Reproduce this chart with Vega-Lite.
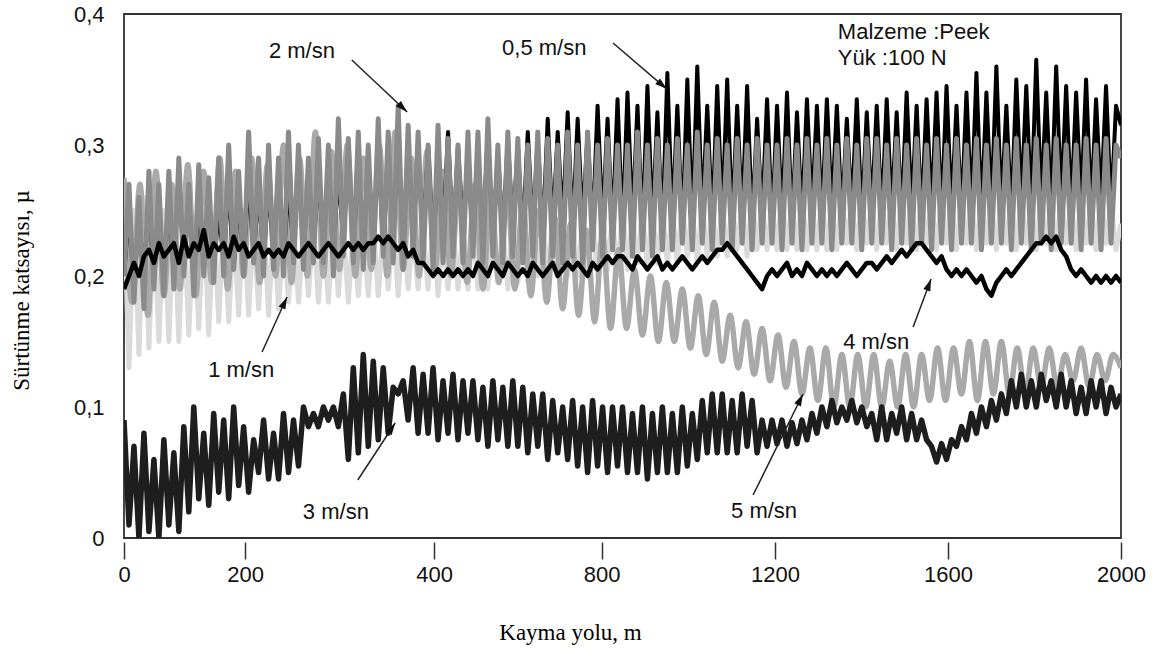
{
"$schema":"https://vega.github.io/schema/vega-lite/v6.json",
"width":997,"height":524,
"autosize":{"type":"none"},
"padding":{"left":124,"top":14,"right":44,"bottom":112},
"background":"white",
"config":{
 "view":{"stroke":"#333","strokeWidth":1.8},
 "axisX":{"domain":false,"grid":false,"offset":4,"tickSize":17,"tickColor":"#333","tickWidth":1.5,"labelFontSize":22,"labelColor":"#111","labelPadding":5,"labelFlush":false,"labelOverlap":false,"labelFont":"Liberation Sans","titleFont":"Liberation Serif","titleFontSize":23,"titleFontWeight":"normal","titleColor":"#000","titleX":446,"titleY":90,"titleBaseline":"middle","titleAlign":"center"},
 "axisY":{"domain":false,"grid":false,"ticks":false,"labelPadding":20,"labelFontSize":22,"labelColor":"#111","labelFont":"Liberation Sans","labelFlush":false,"titleFont":"Liberation Serif","titleFontSize":23,"titleFontWeight":"normal","titleColor":"#000","titleX":-103,"titleY":276,"titleAngle":-90,"titleBaseline":"middle","titleAlign":"center"}
},
"datasets":{
"main":[
{"x":0,"a":0.2,"b":0.26,"c":0.2,"d":0.09,"e":0.19},
{"x":10,"a":0.25,"b":0.13,"c":0.27,"d":0.01,"e":0.2},
{"x":20,"a":0.19,"b":0.25,"c":0.18,"d":0.07,"e":0.21},
{"x":30,"a":0.245,"b":0.14,"c":0.26,"d":0,"e":0.2},
{"x":40,"a":0.2,"b":0.26,"c":0.175,"d":0.08,"e":0.215},
{"x":50,"a":0.26,"b":0.145,"c":0.28,"d":0.005,"e":0.22},
{"x":60,"a":0.195,"b":0.245,"c":0.19,"d":0.06,"e":0.21},
{"x":70,"a":0.25,"b":0.15,"c":0.27,"d":0,"e":0.225},
{"x":80,"a":0.205,"b":0.25,"c":0.185,"d":0.075,"e":0.215},
{"x":90,"a":0.255,"b":0.15,"c":0.28,"d":0.01,"e":0.22},
{"x":100,"a":0.2,"b":0.255,"c":0.19,"d":0.065,"e":0.225},
{"x":110,"a":0.28,"b":0.15,"c":0.29,"d":0.005,"e":0.21},
{"x":120,"a":0.205,"b":0.25,"c":0.2,"d":0.085,"e":0.23},
{"x":130,"a":0.26,"b":0.155,"c":0.27,"d":0.02,"e":0.215},
{"x":140,"a":0.2,"b":0.245,"c":0.185,"d":0.1,"e":0.225},
{"x":150,"a":0.255,"b":0.16,"c":0.285,"d":0.03,"e":0.22},
{"x":160,"a":0.21,"b":0.25,"c":0.2,"d":0.08,"e":0.235},
{"x":170,"a":0.265,"b":0.155,"c":0.275,"d":0.025,"e":0.215},
{"x":180,"a":0.205,"b":0.245,"c":0.195,"d":0.095,"e":0.225},
{"x":190,"a":0.25,"b":0.165,"c":0.29,"d":0.035,"e":0.22},
{"x":200,"a":0.21,"b":0.245,"c":0.2,"d":0.09,"e":0.225},
{"x":210,"a":0.27,"b":0.165,"c":0.3,"d":0.03,"e":0.215},
{"x":220,"a":0.205,"b":0.24,"c":0.205,"d":0.1,"e":0.23},
{"x":230,"a":0.26,"b":0.17,"c":0.28,"d":0.04,"e":0.22},
{"x":240,"a":0.21,"b":0.25,"c":0.2,"d":0.085,"e":0.225},
{"x":250,"a":0.275,"b":0.17,"c":0.31,"d":0.035,"e":0.215},
{"x":260,"a":0.215,"b":0.24,"c":0.21,"d":0.075,"e":0.22},
{"x":270,"a":0.265,"b":0.175,"c":0.29,"d":0.05,"e":0.225},
{"x":280,"a":0.21,"b":0.245,"c":0.2,"d":0.09,"e":0.215},
{"x":290,"a":0.27,"b":0.17,"c":0.3,"d":0.045,"e":0.22},
{"x":300,"a":0.215,"b":0.24,"c":0.205,"d":0.08,"e":0.215},
{"x":310,"a":0.28,"b":0.175,"c":0.29,"d":0.045,"e":0.22},
{"x":320,"a":0.21,"b":0.235,"c":0.2,"d":0.095,"e":0.215},
{"x":330,"a":0.27,"b":0.18,"c":0.31,"d":0.05,"e":0.225},
{"x":340,"a":0.22,"b":0.24,"c":0.21,"d":0.09,"e":0.22},
{"x":350,"a":0.285,"b":0.18,"c":0.3,"d":0.055,"e":0.215},
{"x":360,"a":0.215,"b":0.235,"c":0.205,"d":0.1,"e":0.22},
{"x":370,"a":0.275,"b":0.185,"c":0.29,"d":0.085,"e":0.225},
{"x":380,"a":0.22,"b":0.24,"c":0.21,"d":0.095,"e":0.22},
{"x":390,"a":0.28,"b":0.18,"c":0.305,"d":0.085,"e":0.215},
{"x":400,"a":0.22,"b":0.235,"c":0.21,"d":0.1,"e":0.22},
{"x":410,"a":0.29,"b":0.18,"c":0.3,"d":0.09,"e":0.225},
{"x":420,"a":0.215,"b":0.24,"c":0.2,"d":0.1,"e":0.22},
{"x":430,"a":0.28,"b":0.185,"c":0.32,"d":0.085,"e":0.215},
{"x":440,"a":0.225,"b":0.235,"c":0.215,"d":0.11,"e":0.22},
{"x":450,"a":0.295,"b":0.18,"c":0.305,"d":0.06,"e":0.225},
{"x":460,"a":0.22,"b":0.24,"c":0.21,"d":0.13,"e":0.22},
{"x":470,"a":0.285,"b":0.185,"c":0.31,"d":0.065,"e":0.225},
{"x":480,"a":0.225,"b":0.235,"c":0.205,"d":0.14,"e":0.22},
{"x":490,"a":0.29,"b":0.185,"c":0.3,"d":0.07,"e":0.225},
{"x":500,"a":0.225,"b":0.24,"c":0.21,"d":0.135,"e":0.225},
{"x":510,"a":0.3,"b":0.185,"c":0.32,"d":0.075,"e":0.23},
{"x":520,"a":0.22,"b":0.235,"c":0.215,"d":0.13,"e":0.225},
{"x":530,"a":0.29,"b":0.19,"c":0.31,"d":0.08,"e":0.23},
{"x":540,"a":0.23,"b":0.24,"c":0.21,"d":0.115,"e":0.225},
{"x":550,"a":0.305,"b":0.185,"c":0.33,"d":0.11,"e":0.22},
{"x":560,"a":0.225,"b":0.24,"c":0.205,"d":0.12,"e":0.225},
{"x":570,"a":0.3,"b":0.19,"c":0.315,"d":0.09,"e":0.215},
{"x":580,"a":0.23,"b":0.235,"c":0.215,"d":0.13,"e":0.22},
{"x":590,"a":0.295,"b":0.19,"c":0.31,"d":0.08,"e":0.21},
{"x":600,"a":0.225,"b":0.235,"c":0.21,"d":0.125,"e":0.21},
{"x":610,"a":0.3,"b":0.19,"c":0.3,"d":0.08,"e":0.205},
{"x":620,"a":0.22,"b":0.24,"c":0.205,"d":0.13,"e":0.2},
{"x":630,"a":0.29,"b":0.185,"c":0.315,"d":0.075,"e":0.205},
{"x":640,"a":0.23,"b":0.235,"c":0.21,"d":0.12,"e":0.2},
{"x":650,"a":0.31,"b":0.19,"c":0.305,"d":0.08,"e":0.205},
{"x":660,"a":0.225,"b":0.24,"c":0.215,"d":0.125,"e":0.2},
{"x":670,"a":0.3,"b":0.19,"c":0.3,"d":0.075,"e":0.205},
{"x":680,"a":0.23,"b":0.235,"c":0.21,"d":0.12,"e":0.2},
{"x":690,"a":0.29,"b":0.19,"c":0.31,"d":0.08,"e":0.205},
{"x":700,"a":0.225,"b":0.24,"c":0.215,"d":0.12,"e":0.2},
{"x":710,"a":0.3,"b":0.19,"c":0.31,"d":0.075,"e":0.21},
{"x":720,"a":0.23,"b":0.235,"c":0.21,"d":0.115,"e":0.205},
{"x":730,"a":0.31,"b":0.19,"c":0.32,"d":0.07,"e":0.2},
{"x":740,"a":0.225,"b":0.24,"c":0.215,"d":0.12,"e":0.21},
{"x":750,"a":0.295,"b":0.195,"c":0.3,"d":0.075,"e":0.205},
{"x":760,"a":0.23,"b":0.235,"c":0.21,"d":0.115,"e":0.2},
{"x":770,"a":0.305,"b":0.19,"c":0.31,"d":0.07,"e":0.21},
{"x":780,"a":0.235,"b":0.24,"c":0.215,"d":0.12,"e":0.205},
{"x":790,"a":0.3,"b":0.195,"c":0.305,"d":0.07,"e":0.2},
{"x":800,"a":0.23,"b":0.24,"c":0.21,"d":0.115,"e":0.205},
{"x":810,"a":0.31,"b":0.195,"c":0.3,"d":0.065,"e":0.2},
{"x":820,"a":0.235,"b":0.245,"c":0.215,"d":0.11,"e":0.21},
{"x":830,"a":0.305,"b":0.2,"c":0.31,"d":0.07,"e":0.205},
{"x":840,"a":0.23,"b":0.24,"c":0.21,"d":0.11,"e":0.2},
{"x":850,"a":0.32,"b":0.2,"c":0.305,"d":0.06,"e":0.205},
{"x":860,"a":0.235,"b":0.245,"c":0.215,"d":0.105,"e":0.21},
{"x":870,"a":0.31,"b":0.2,"c":0.3,"d":0.065,"e":0.2},
{"x":880,"a":0.24,"b":0.24,"c":0.21,"d":0.1,"e":0.205},
{"x":890,"a":0.325,"b":0.2,"c":0.31,"d":0.06,"e":0.21},
{"x":900,"a":0.235,"b":0.245,"c":0.215,"d":0.105,"e":0.205},
{"x":910,"a":0.32,"b":0.2,"c":0.3,"d":0.055,"e":0.21},
{"x":920,"a":0.24,"b":0.24,"c":0.21,"d":0.1,"e":0.205},
{"x":930,"a":0.31,"b":0.205,"c":0.31,"d":0.05,"e":0.2},
{"x":940,"a":0.235,"b":0.245,"c":0.22,"d":0.105,"e":0.21},
{"x":950,"a":0.33,"b":0.2,"c":0.3,"d":0.055,"e":0.205},
{"x":960,"a":0.24,"b":0.25,"c":0.215,"d":0.1,"e":0.21},
{"x":970,"a":0.32,"b":0.205,"c":0.305,"d":0.05,"e":0.215},
{"x":980,"a":0.235,"b":0.245,"c":0.22,"d":0.1,"e":0.21},
{"x":990,"a":0.335,"b":0.2,"c":0.3,"d":0.055,"e":0.215},
{"x":1000,"a":0.235,"b":0.25,"c":0.22,"d":0.1,"e":0.215},
{"x":1010,"a":0.34,"b":0.205,"c":0.3,"d":0.05,"e":0.21},
{"x":1020,"a":0.24,"b":0.245,"c":0.215,"d":0.095,"e":0.205},
{"x":1030,"a":0.33,"b":0.21,"c":0.31,"d":0.05,"e":0.215},
{"x":1040,"a":0.235,"b":0.25,"c":0.22,"d":0.1,"e":0.21},
{"x":1050,"a":0.345,"b":0.205,"c":0.3,"d":0.045,"e":0.205},
{"x":1060,"a":0.24,"b":0.25,"c":0.215,"d":0.095,"e":0.21},
{"x":1070,"a":0.325,"b":0.21,"c":0.305,"d":0.05,"e":0.215},
{"x":1080,"a":0.235,"b":0.25,"c":0.22,"d":0.1,"e":0.205},
{"x":1090,"a":0.355,"b":0.21,"c":0.3,"d":0.05,"e":0.21},
{"x":1100,"a":0.24,"b":0.25,"c":0.22,"d":0.095,"e":0.205},
{"x":1110,"a":0.33,"b":0.21,"c":0.305,"d":0.05,"e":0.21},
{"x":1120,"a":0.235,"b":0.255,"c":0.225,"d":0.1,"e":0.215},
{"x":1130,"a":0.35,"b":0.215,"c":0.3,"d":0.055,"e":0.21},
{"x":1140,"a":0.24,"b":0.25,"c":0.22,"d":0.095,"e":0.205},
{"x":1150,"a":0.36,"b":0.21,"c":0.31,"d":0.06,"e":0.21},
{"x":1160,"a":0.245,"b":0.255,"c":0.225,"d":0.105,"e":0.215},
{"x":1170,"a":0.33,"b":0.215,"c":0.3,"d":0.065,"e":0.21},
{"x":1180,"a":0.24,"b":0.25,"c":0.22,"d":0.11,"e":0.215},
{"x":1190,"a":0.345,"b":0.215,"c":0.305,"d":0.065,"e":0.22},
{"x":1200,"a":0.245,"b":0.255,"c":0.225,"d":0.11,"e":0.22},
{"x":1210,"a":0.35,"b":0.215,"c":0.3,"d":0.065,"e":0.225},
{"x":1220,"a":0.24,"b":0.255,"c":0.22,"d":0.105,"e":0.22},
{"x":1230,"a":0.33,"b":0.22,"c":0.305,"d":0.065,"e":0.215},
{"x":1240,"a":0.245,"b":0.255,"c":0.225,"d":0.11,"e":0.21},
{"x":1250,"a":0.345,"b":0.215,"c":0.3,"d":0.07,"e":0.205},
{"x":1260,"a":0.24,"b":0.26,"c":0.22,"d":0.105,"e":0.2},
{"x":1270,"a":0.32,"b":0.22,"c":0.305,"d":0.065,"e":0.195},
{"x":1280,"a":0.245,"b":0.255,"c":0.225,"d":0.09,"e":0.19},
{"x":1290,"a":0.335,"b":0.22,"c":0.3,"d":0.07,"e":0.2},
{"x":1300,"a":0.24,"b":0.255,"c":0.225,"d":0.09,"e":0.205},
{"x":1310,"a":0.33,"b":0.22,"c":0.3,"d":0.072,"e":0.2},
{"x":1320,"a":0.245,"b":0.26,"c":0.22,"d":0.09,"e":0.205},
{"x":1330,"a":0.34,"b":0.22,"c":0.305,"d":0.07,"e":0.21},
{"x":1340,"a":0.24,"b":0.255,"c":0.225,"d":0.088,"e":0.2},
{"x":1350,"a":0.325,"b":0.22,"c":0.3,"d":0.072,"e":0.205},
{"x":1360,"a":0.245,"b":0.26,"c":0.22,"d":0.09,"e":0.2},
{"x":1370,"a":0.335,"b":0.22,"c":0.305,"d":0.075,"e":0.21},
{"x":1380,"a":0.25,"b":0.255,"c":0.225,"d":0.095,"e":0.205},
{"x":1390,"a":0.33,"b":0.22,"c":0.3,"d":0.08,"e":0.2},
{"x":1400,"a":0.245,"b":0.26,"c":0.225,"d":0.1,"e":0.205},
{"x":1410,"a":0.335,"b":0.22,"c":0.305,"d":0.085,"e":0.2},
{"x":1420,"a":0.25,"b":0.255,"c":0.22,"d":0.105,"e":0.205},
{"x":1430,"a":0.33,"b":0.22,"c":0.3,"d":0.088,"e":0.2},
{"x":1440,"a":0.245,"b":0.26,"c":0.225,"d":0.1,"e":0.205},
{"x":1450,"a":0.32,"b":0.225,"c":0.305,"d":0.09,"e":0.21},
{"x":1460,"a":0.25,"b":0.255,"c":0.225,"d":0.105,"e":0.205},
{"x":1470,"a":0.335,"b":0.22,"c":0.3,"d":0.088,"e":0.2},
{"x":1480,"a":0.245,"b":0.26,"c":0.22,"d":0.1,"e":0.205},
{"x":1490,"a":0.325,"b":0.225,"c":0.305,"d":0.085,"e":0.21},
{"x":1500,"a":0.25,"b":0.255,"c":0.225,"d":0.095,"e":0.21},
{"x":1510,"a":0.33,"b":0.22,"c":0.305,"d":0.075,"e":0.205},
{"x":1520,"a":0.245,"b":0.26,"c":0.225,"d":0.1,"e":0.21},
{"x":1530,"a":0.335,"b":0.225,"c":0.3,"d":0.075,"e":0.215},
{"x":1540,"a":0.25,"b":0.255,"c":0.22,"d":0.095,"e":0.21},
{"x":1550,"a":0.325,"b":0.22,"c":0.305,"d":0.08,"e":0.215},
{"x":1560,"a":0.245,"b":0.26,"c":0.225,"d":0.1,"e":0.22},
{"x":1570,"a":0.34,"b":0.225,"c":0.3,"d":0.075,"e":0.215},
{"x":1580,"a":0.25,"b":0.255,"c":0.22,"d":0.095,"e":0.22},
{"x":1590,"a":0.33,"b":0.22,"c":0.305,"d":0.075,"e":0.225},
{"x":1600,"a":0.245,"b":0.26,"c":0.225,"d":0.09,"e":0.225},
{"x":1610,"a":0.335,"b":0.225,"c":0.3,"d":0.075,"e":0.22},
{"x":1620,"a":0.25,"b":0.255,"c":0.22,"d":0.07,"e":0.215},
{"x":1630,"a":0.34,"b":0.22,"c":0.305,"d":0.058,"e":0.21},
{"x":1640,"a":0.245,"b":0.26,"c":0.225,"d":0.072,"e":0.215},
{"x":1650,"a":0.345,"b":0.225,"c":0.3,"d":0.06,"e":0.205},
{"x":1660,"a":0.25,"b":0.255,"c":0.22,"d":0.075,"e":0.2},
{"x":1670,"a":0.33,"b":0.22,"c":0.305,"d":0.07,"e":0.205},
{"x":1680,"a":0.245,"b":0.26,"c":0.225,"d":0.085,"e":0.2},
{"x":1690,"a":0.34,"b":0.225,"c":0.3,"d":0.075,"e":0.205},
{"x":1700,"a":0.25,"b":0.255,"c":0.225,"d":0.095,"e":0.2},
{"x":1710,"a":0.355,"b":0.22,"c":0.305,"d":0.08,"e":0.195},
{"x":1720,"a":0.245,"b":0.26,"c":0.22,"d":0.1,"e":0.2},
{"x":1730,"a":0.34,"b":0.225,"c":0.3,"d":0.085,"e":0.19},
{"x":1740,"a":0.25,"b":0.255,"c":0.225,"d":0.105,"e":0.185},
{"x":1750,"a":0.36,"b":0.22,"c":0.305,"d":0.09,"e":0.195},
{"x":1760,"a":0.25,"b":0.26,"c":0.225,"d":0.11,"e":0.2},
{"x":1770,"a":0.33,"b":0.225,"c":0.3,"d":0.095,"e":0.205},
{"x":1780,"a":0.245,"b":0.255,"c":0.22,"d":0.12,"e":0.2},
{"x":1790,"a":0.35,"b":0.22,"c":0.305,"d":0.1,"e":0.205},
{"x":1800,"a":0.255,"b":0.26,"c":0.225,"d":0.125,"e":0.21},
{"x":1810,"a":0.345,"b":0.225,"c":0.3,"d":0.1,"e":0.215},
{"x":1820,"a":0.25,"b":0.255,"c":0.22,"d":0.12,"e":0.22},
{"x":1830,"a":0.365,"b":0.22,"c":0.305,"d":0.1,"e":0.225},
{"x":1840,"a":0.255,"b":0.26,"c":0.225,"d":0.125,"e":0.225},
{"x":1850,"a":0.34,"b":0.225,"c":0.3,"d":0.105,"e":0.23},
{"x":1860,"a":0.25,"b":0.255,"c":0.22,"d":0.12,"e":0.225},
{"x":1870,"a":0.36,"b":0.22,"c":0.305,"d":0.1,"e":0.23},
{"x":1880,"a":0.255,"b":0.26,"c":0.225,"d":0.125,"e":0.22},
{"x":1890,"a":0.345,"b":0.225,"c":0.3,"d":0.1,"e":0.215},
{"x":1900,"a":0.25,"b":0.255,"c":0.225,"d":0.12,"e":0.205},
{"x":1910,"a":0.34,"b":0.22,"c":0.3,"d":0.095,"e":0.2},
{"x":1920,"a":0.255,"b":0.26,"c":0.22,"d":0.115,"e":0.205},
{"x":1930,"a":0.35,"b":0.225,"c":0.305,"d":0.095,"e":0.2},
{"x":1940,"a":0.25,"b":0.255,"c":0.225,"d":0.12,"e":0.195},
{"x":1950,"a":0.335,"b":0.22,"c":0.3,"d":0.1,"e":0.2},
{"x":1960,"a":0.255,"b":0.26,"c":0.22,"d":0.12,"e":0.195},
{"x":1970,"a":0.345,"b":0.225,"c":0.305,"d":0.095,"e":0.2},
{"x":1980,"a":0.25,"b":0.255,"c":0.225,"d":0.115,"e":0.195},
{"x":1990,"a":0.33,"b":0.22,"c":0.3,"d":0.1,"e":0.2},
{"x":2000,"a":0.315,"b":0.24,"c":0.29,"d":0.11,"e":0.195}
],
"v5":[
{"x":0,"f":0.275},{"x":16,"f":0.18},{"x":32,"f":0.27},{"x":48,"f":0.17},{"x":64,"f":0.28},{"x":80,"f":0.185},{"x":96,"f":0.27},{"x":112,"f":0.19},{"x":128,"f":0.285},{"x":144,"f":0.185},
{"x":160,"f":0.28},{"x":176,"f":0.195},{"x":192,"f":0.29},{"x":208,"f":0.19},{"x":224,"f":0.28},{"x":240,"f":0.2},{"x":256,"f":0.29},{"x":272,"f":0.195},{"x":288,"f":0.285},{"x":304,"f":0.2},
{"x":320,"f":0.3},{"x":336,"f":0.195},{"x":352,"f":0.29},{"x":368,"f":0.2},{"x":384,"f":0.31},{"x":400,"f":0.2},{"x":416,"f":0.295},{"x":432,"f":0.205},{"x":448,"f":0.3},{"x":464,"f":0.2},
{"x":480,"f":0.29},{"x":496,"f":0.205},{"x":512,"f":0.3},{"x":528,"f":0.2},{"x":544,"f":0.31},{"x":560,"f":0.205},{"x":576,"f":0.29},{"x":592,"f":0.2},{"x":608,"f":0.295},{"x":624,"f":0.205},
{"x":640,"f":0.28},{"x":656,"f":0.2},{"x":672,"f":0.275},{"x":688,"f":0.195},{"x":704,"f":0.27},{"x":720,"f":0.19},{"x":736,"f":0.265},{"x":752,"f":0.195},{"x":768,"f":0.27},{"x":784,"f":0.19},
{"x":800,"f":0.255},{"x":816,"f":0.185},{"x":832,"f":0.25},{"x":848,"f":0.18},{"x":864,"f":0.245},{"x":880,"f":0.175},{"x":896,"f":0.24},{"x":912,"f":0.17},{"x":928,"f":0.235},{"x":944,"f":0.165},
{"x":960,"f":0.23},{"x":976,"f":0.16},{"x":992,"f":0.22},{"x":1008,"f":0.16},{"x":1024,"f":0.205},{"x":1040,"f":0.155},{"x":1056,"f":0.2},{"x":1072,"f":0.15},{"x":1088,"f":0.195},{"x":1104,"f":0.15},
{"x":1120,"f":0.19},{"x":1136,"f":0.145},{"x":1152,"f":0.185},{"x":1168,"f":0.14},{"x":1184,"f":0.18},{"x":1200,"f":0.135},{"x":1216,"f":0.17},{"x":1232,"f":0.13},{"x":1248,"f":0.165},{"x":1264,"f":0.125},
{"x":1280,"f":0.16},{"x":1296,"f":0.12},{"x":1312,"f":0.155},{"x":1328,"f":0.115},{"x":1344,"f":0.15},{"x":1360,"f":0.11},{"x":1376,"f":0.145},{"x":1392,"f":0.105},{"x":1408,"f":0.145},{"x":1424,"f":0.1},
{"x":1440,"f":0.14},{"x":1456,"f":0.1},{"x":1472,"f":0.14},{"x":1488,"f":0.1},{"x":1504,"f":0.14},{"x":1520,"f":0.1},{"x":1536,"f":0.135},{"x":1552,"f":0.1},{"x":1568,"f":0.14},{"x":1584,"f":0.1},
{"x":1600,"f":0.14},{"x":1616,"f":0.105},{"x":1632,"f":0.145},{"x":1648,"f":0.105},{"x":1664,"f":0.145},{"x":1680,"f":0.11},{"x":1696,"f":0.15},{"x":1712,"f":0.105},{"x":1728,"f":0.15},{"x":1744,"f":0.11},
{"x":1760,"f":0.15},{"x":1776,"f":0.11},{"x":1792,"f":0.145},{"x":1808,"f":0.11},{"x":1824,"f":0.145},{"x":1840,"f":0.115},{"x":1856,"f":0.145},{"x":1872,"f":0.115},{"x":1888,"f":0.14},{"x":1904,"f":0.12},
{"x":1920,"f":0.145},{"x":1936,"f":0.115},{"x":1952,"f":0.14},{"x":1968,"f":0.12},{"x":1984,"f":0.14},{"x":2000,"f":0.13}
],
"arrows":[
{"x":457,"y":0.3649,"x2":568,"y2":0.3252,"ang":133.4},
{"x":981,"y":0.3779,"x2":1089,"y2":0.3427,"ang":130.4},
{"x":277,"y":0.142,"x2":327,"y2":0.184,"ang":24.4},
{"x":469,"y":0.0443,"x2":544,"y2":0.0878,"ang":33},
{"x":1262,"y":0.0328,"x2":1362,"y2":0.1099,"ang":26.3},
{"x":1583,"y":0.161,"x2":1619,"y2":0.1977,"ang":20.6}
],
"labels":[
{"x":357,"y":0.3718,"t":"2 m/sn"},
{"x":843,"y":0.374,"t":"0,5 m/sn"},
{"x":235,"y":0.1282,"t":"1 m/sn"},
{"x":425,"y":0.0198,"t":"3 m/sn"},
{"x":1284,"y":0.0206,"t":"5 m/sn"},
{"x":1509,"y":0.1496,"t":"4 m/sn"}
],
"info":[
{"x":1432,"y":0.3863,"t":"Malzeme :Peek"},
{"x":1432,"y":0.3664,"t":"Yük :100 N"}
]
},
"encoding":{"x":{"field":"x","type":"quantitative","scale":{"domain":[0,2000],"nice":false},"title":"Kayma yolu, m","axis":{"values":[0,243,622,958,1306,1653,2000],"format":"d","labelExpr":"datum.value == 243 ? '200' : datum.value == 622 ? '400' : datum.value == 958 ? '800' : datum.value == 1306 ? '1200' : datum.value == 1653 ? '1600' : datum.label"}}},
"layer":[
{"data":{"name":"main"},"mark":{"type":"line","color":"#dadada","strokeWidth":5,"clip":true,"strokeJoin":"round"},
 "encoding":{"y":{"field":"b","type":"quantitative","scale":{"domain":[0,0.4]},"title":"Sürtünme katsayısı, µ","axis":{"values":[0,0.1,0.2,0.3,0.4],"labelExpr":"datum.value == 0 ? '0' : replace(format(datum.value, '.1f'), '.', ',')"}}}},
{"data":{"name":"v5"},"mark":{"type":"line","color":"#a9a9a9","strokeWidth":5.5,"clip":true,"strokeJoin":"round","interpolate":"monotone"},
 "encoding":{"y":{"field":"f","type":"quantitative","scale":{"domain":[0,0.4]},"title":"Sürtünme katsayısı, µ"}}},
{"data":{"name":"main"},"mark":{"type":"line","color":"#000000","strokeWidth":4,"clip":true,"strokeJoin":"round"},
 "encoding":{"y":{"field":"a","type":"quantitative","scale":{"domain":[0,0.4]},"title":"Sürtünme katsayısı, µ"}}},
{"data":{"name":"main"},"mark":{"type":"line","color":"#8a8a8a","strokeWidth":5,"clip":true,"strokeJoin":"round"},
 "encoding":{"y":{"field":"c","type":"quantitative","scale":{"domain":[0,0.4]},"title":"Sürtünme katsayısı, µ"}}},
{"data":{"name":"main"},"mark":{"type":"line","color":"#000000","strokeWidth":4.5,"clip":true,"strokeJoin":"round"},
 "encoding":{"y":{"field":"e","type":"quantitative","scale":{"domain":[0,0.4]},"title":"Sürtünme katsayısı, µ"}}},
{"data":{"name":"main"},"mark":{"type":"line","color":"#1e1e1e","strokeWidth":5.5,"clip":true,"strokeJoin":"round"},
 "encoding":{"y":{"field":"d","type":"quantitative","scale":{"domain":[0,0.4]},"title":"Sürtünme katsayısı, µ"}}},
{"data":{"name":"arrows"},"mark":{"type":"rule","color":"#222","strokeWidth":1.5},
 "encoding":{"y":{"field":"y","type":"quantitative","scale":{"domain":[0,0.4]},"title":"Sürtünme katsayısı, µ"},"x2":{"field":"x2"},"y2":{"field":"y2"}}},
{"data":{"name":"arrows"},"mark":{"type":"point","shape":"M0,0L-0.55,1.8L0.55,1.8Z","filled":true,"color":"#111","size":180,"opacity":1},
 "encoding":{"x":{"field":"x2","type":"quantitative"},"y":{"field":"y2","type":"quantitative","scale":{"domain":[0,0.4]},"title":"Sürtünme katsayısı, µ"},"angle":{"field":"ang","type":"quantitative","scale":null}}},
{"data":{"name":"labels"},"mark":{"type":"text","font":"Liberation Sans","fontSize":22,"color":"#111","align":"center","baseline":"middle"},
 "encoding":{"y":{"field":"y","type":"quantitative","scale":{"domain":[0,0.4]},"title":"Sürtünme katsayısı, µ"},"text":{"field":"t"}}},
{"data":{"name":"info"},"mark":{"type":"text","font":"Liberation Sans","fontSize":22,"color":"#111","align":"left","baseline":"middle"},
 "encoding":{"y":{"field":"y","type":"quantitative","scale":{"domain":[0,0.4]},"title":"Sürtünme katsayısı, µ"},"text":{"field":"t"}}}
]
}
